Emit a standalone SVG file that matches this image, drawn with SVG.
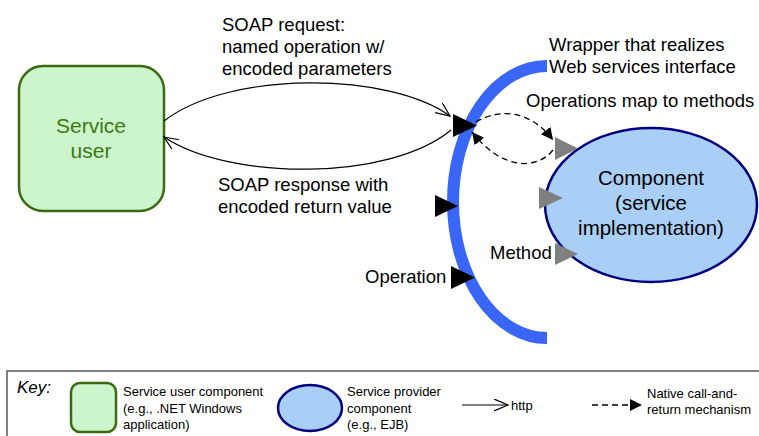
<svg xmlns="http://www.w3.org/2000/svg" width="759" height="436" viewBox="0 0 759 436">
  <style>
    text { font-family: "Liberation Sans", Arial, sans-serif; fill: #000; }
    .lbl { font-size: 18.5px; }
    .key { font-size: 13px; }
    .user-box { fill: #ccf5cc; stroke: #3a6a12; stroke-width: 2.5; }
    .provider { fill: #a9cff7; stroke: #000080; stroke-width: 2.5; }
    .http { fill: none; stroke: #000; stroke-width: 1.2; }
    .native { fill: none; stroke: #000; stroke-width: 1.3; stroke-dasharray: 6 4; }
    .op { fill: #000; }
    .meth { fill: #808080; }
  </style>
  <defs>
    <marker id="open-head" markerUnits="userSpaceOnUse" markerWidth="16" markerHeight="14" refX="14" refY="6" orient="auto">
      <path d="M0,0 L14,6 L0,12" fill="none" stroke="#000" stroke-width="1.2"/>
    </marker>
    <marker id="solid-head" markerUnits="userSpaceOnUse" markerWidth="14" markerHeight="14" refX="12" refY="6" orient="auto">
      <path d="M0,0 L12,6 L0,12 z" fill="#000"/>
    </marker>
  </defs>

  <!-- Service user -->
  <g id="service-user">
    <rect class="user-box" x="19" y="66" width="145" height="145" rx="24" ry="24"/>
    <text x="91" y="133" text-anchor="middle" font-size="21" style="fill:#3a7a10">Service</text>
    <text x="91" y="158" text-anchor="middle" font-size="21" style="fill:#3a7a10">user</text>
  </g>

  <!-- Web services wrapper -->
  <g id="wrapper">
    <path d="M547,66 A94,136 0 0,0 547,338" fill="none" stroke="#3a66f8" stroke-width="12"/>
    <polygon class="op" points="453,114 477,125.5 453,137"/>
    <polygon class="op" points="435,195 458,206 435,217"/>
    <polygon class="op" points="451,266 475,277.5 451,289"/>
    <text class="lbl" x="549" y="51">Wrapper that realizes</text>
    <text class="lbl" x="549" y="73">Web services interface</text>
    <text class="lbl" x="365" y="283">Operation</text>
  </g>

  <!-- Component -->
  <g id="component">
    <ellipse class="provider" cx="651" cy="205" rx="106" ry="77"/>
    <polygon class="meth" points="555,137 578,148.5 555,160"/>
    <polygon class="meth" points="539,187 563,198 539,209"/>
    <polygon class="meth" points="555,243 578,254 555,265"/>
    <text x="651" y="185" text-anchor="middle" font-size="20.5">Component</text>
    <text x="651" y="210" text-anchor="middle" font-size="20.5">(service</text>
    <text x="651" y="235" text-anchor="middle" font-size="20.5">implementation)</text>
    <text class="lbl" x="490" y="259">Method</text>
  </g>

  <!-- Connectors -->
  <g id="connectors">
    <path class="http" d="M164,121 C230,70 390,72 450,116" marker-end="url(#open-head)"/>
    <path class="http" d="M451,130 C390,181 230,181 164,137" marker-end="url(#open-head)"/>
    <path class="native" d="M476,122 C500,108 530,110 553,140" marker-end="url(#solid-head)"/>
    <path class="native" d="M553,150 C535,172 500,168 472,132" marker-end="url(#solid-head)"/>
    <text class="lbl" x="222" y="31">SOAP request:</text>
    <text class="lbl" x="222" y="53">named operation w/</text>
    <text class="lbl" x="222" y="75">encoded parameters</text>
    <text class="lbl" x="218" y="191">SOAP response with</text>
    <text class="lbl" x="218" y="213">encoded return value</text>
    <text class="lbl" x="526" y="107">Operations map to methods</text>
  </g>

  <!-- Key -->
  <g id="key">
    <rect x="7" y="371" width="760" height="80" fill="none" stroke="#555" stroke-width="1.5"/>
    <text x="17" y="393" font-size="17" font-style="italic">Key:</text>
    <rect class="user-box" x="71" y="383" width="45" height="49" rx="9" ry="9"/>
    <text class="key" x="123" y="396">Service user component</text>
    <text class="key" x="123" y="413">(e.g., .NET Windows</text>
    <text class="key" x="123" y="429">application)</text>
    <ellipse class="provider" cx="310" cy="408" rx="32" ry="23"/>
    <text class="key" x="347" y="396">Service provider</text>
    <text class="key" x="347" y="413">component</text>
    <text class="key" x="347" y="429">(e.g., EJB)</text>
    <path class="http" d="M462,405 L508,405" marker-end="url(#open-head)"/>
    <text class="key" x="511" y="410">http</text>
    <path class="native" d="M592,405 L642,405" marker-end="url(#solid-head)"/>
    <text class="key" x="647" y="398">Native call-and-</text>
    <text class="key" x="647" y="414">return mechanism</text>
  </g>
</svg>
